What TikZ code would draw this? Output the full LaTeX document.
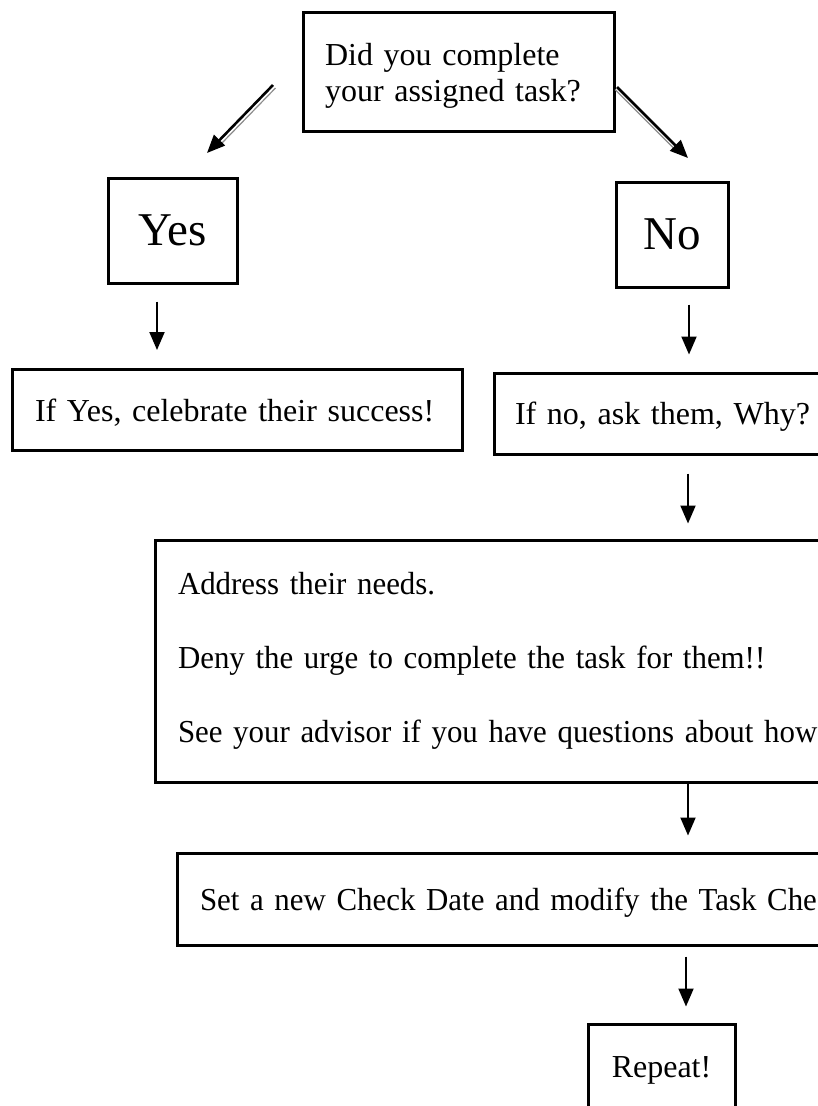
\documentclass[tikz,border=0pt]{standalone}
\usepackage{fontspec}
\setmainfont{Liberation Serif}
\newfontfamily\narrowserif{Liberation Serif}[FakeStretch=0.965,WordSpace=0.9]
\usetikzlibrary{arrows.meta,calc}
\begin{document}
\begin{tikzpicture}[x=1pt,y=-1pt,
  box/.style={draw, line width=3pt, rectangle, inner ysep=0pt, font=\fontsize{32}{36}\selectfont},
  flat/.style={text depth=0pt},
  lbox/.style={box, align=left},
  big/.style={font=\fontsize{47}{52}\selectfont},
  arr/.style={line width=2pt, -{Triangle[length=18pt,width=15pt]}},
  darr/.style={line width=2.6pt, -{Triangle[length=18pt,width=15pt]}},
  shade/.style={line width=1.2pt, black!45}]
\useasboundingbox (0,0) rectangle (818,1106);
\fill[white] (0,0) rectangle (818,1106);
\clip (0,0) rectangle (818,1106);

% boxes
\node[lbox, text depth=35pt, text width=267pt, inner xsep=22pt, minimum height=119pt] (q) at (458.5,71.5) {Did you complete\\your assigned task?};
\node[box, flat, big, minimum width=129pt, minimum height=105pt] (yes) at (172.5,230.5) {Yes};
\node[box, flat, big, minimum width=112pt, minimum height=105pt] (no) at (672,234.5) {No};
\node[lbox, flat, text width=404pt, inner xsep=23pt, minimum height=81pt] (ifyes) at (237,410) {If Yes, celebrate their success!};
\node[lbox, flat, text width=304pt, inner xsep=21pt, minimum height=81pt] (ifno) at (667,413.5) {If no, ask them, Why?};
\node[lbox, text width=799pt, inner xsep=23pt, minimum height=242pt, font=\narrowserif\fontsize{32}{74}\selectfont] (needs) at (577.5,661) {Address their needs.\\Deny the urge to complete the task for them!!\\See your advisor if you have questions about how};
\node[lbox, flat, text width=777pt, inner xsep=23pt, minimum height=92pt, font=\narrowserif\fontsize{32}{36}\selectfont] (setdate) at (588.5,899) {Set a new Check Date and modify the Task Che};
\node[box, flat, minimum width=147pt, minimum height=86pt] (rep) at (661.5,1067) {Repeat!};

% diagonal arrows from the question
\coordinate (dlA) at (273,85);
\coordinate (dlB) at (207,153);
\coordinate (dlS1) at (275.5,88);
\coordinate (dlS2) at (222,143);
\draw[shade] (dlS1) -- (dlS2);
\draw[darr] (dlA) -- (dlB);

\coordinate (drA) at (617,87);
\coordinate (drB) at (688,158);
\coordinate (drS1) at (615,89.5);
\coordinate (drS2) at (673,147.5);
\draw[shade] (drS1) -- (drS2);
\draw[darr] (drA) -- (drB);

% vertical arrows
\draw[arr] ($(yes.south)+(-15.5,17)$) -- ($(ifyes.north)+(-80,-18)$);
\draw[arr] ($(no.south)+(17,16)$) -- ($(ifno.north)+(22,-17)$);
\draw[arr] ($(ifno.south)+(21,18)$) -- ($(needs.north)+(110.5,-15)$);
\draw[arr] ($(needs.south)+(110.5,0)$) -- ($(setdate.north)+(99.5,-16)$);
\draw[arr] ($(setdate.south)+(97.5,10)$) -- ($(rep.north)+(24.5,-16)$);
\end{tikzpicture}
\end{document}
